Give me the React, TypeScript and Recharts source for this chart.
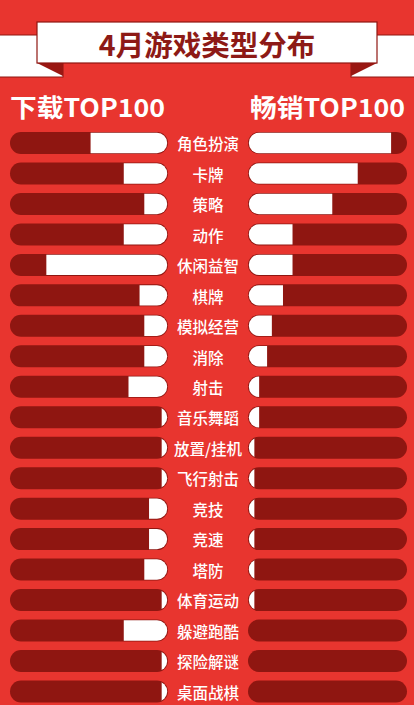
import { Bar, BarChart, XAxis, YAxis } from "recharts";

const categories = [
  "角色扮演",
  "卡牌",
  "策略",
  "动作",
  "休闲益智",
  "棋牌",
  "模拟经营",
  "消除",
  "射击",
  "音乐舞蹈",
  "放置/挂机",
  "飞行射击",
  "竞技",
  "竞速",
  "塔防",
  "体育运动",
  "躲避跑酷",
  "探险解谜",
  "桌面战棋",
];

// share of the track filled (0-100)
const downloadShare = [49, 28, 15, 28, 77, 18, 15, 15, 25, 4, 4, 4, 12, 12, 15, 4, 28, 4, 4];
const revenueShare = [90, 69, 53, 28, 28, 22, 15, 12, 7, 7, 4, 4, 4, 4, 4, 4, 0, 0, 0];

const title = "4月游戏类型分布";
const leftHeading = "下载TOP100";
const rightHeading = "畅销TOP100";

const rows = categories.map((name, i) => ({
  name,
  download: downloadShare[i],
  revenue: revenueShare[i],
}));

const RED = "#e8352f";
const DARK = "#8f1611";
const INK = "#8d1a16";
const FONT = '"Noto Sans CJK SC", "Noto Sans", sans-serif';

const ROW_H = 30.47;
const CHART_TOP = 128;
const CHART_H = ROW_H * categories.length;
const LABEL_W = 80;

function Track(props: any) {
  const { x, y, width, height } = props;
  return <rect x={x} y={y} width={width} height={height} rx={height / 2} fill={DARK} />;
}

function FillShape(props: any) {
  const { x, y, width, height, background, index, side } = props;
  const w = Math.abs(width ?? 0);
  if (!background || !w) return null;
  const x0 = Math.min(x, x + width);
  const b = background;
  const id = `clip-${side}-${index}`;
  const inset = 0.8;
  return (
    <g>
      <defs>
        <clipPath id={id}>
          <rect
            x={b.x + inset}
            y={b.y + inset}
            width={b.width - inset * 2}
            height={b.height - inset * 2}
            rx={(b.height - inset * 2) / 2}
          />
        </clipPath>
      </defs>
      <rect x={x0} y={y} width={w} height={height} fill="#fff" clipPath={`url(#${id})`} />
    </g>
  );
}

function CategoryTick({ x, y, payload }: any) {
  return (
    <text
      x={x + LABEL_W / 2}
      y={y}
      textAnchor="middle"
      dominantBaseline="central"
      fill="#fff"
      fontFamily={FONT}
      fontSize={15.5}
      fontWeight={500}
    >
      {payload.value}
    </text>
  );
}

function Banner() {
  return (
    <svg width={414} height={125} style={{ position: "absolute", left: 0, top: 0 }}>
      <rect x={-2} y={35} width={65} height={42} fill="#fff" stroke={DARK} strokeWidth={1} />
      <rect x={351} y={35} width={65} height={42} fill="#fff" stroke={DARK} strokeWidth={1} />
      <polygon points="37,63 63,63 63,76" fill="#9a1712" />
      <polygon points="351,63 377,63 351,76" fill="#9a1712" />
      <rect x={37} y={22} width={340} height={41} fill="#fff" stroke={DARK} strokeWidth={1.2} />
      <text
        x={207}
        y={43}
        textAnchor="middle"
        dominantBaseline="central"
        fontFamily={FONT}
        fontSize={28.5}
        fontWeight={700}
        fill={INK}
      >
        {title}
      </text>
      <text
        x={10}
        y={106}
        dominantBaseline="central"
        fontFamily={FONT}
        fontSize={25}
        fontWeight={700}
        fill="#fff"
        textLength={155}
        lengthAdjust="spacingAndGlyphs"
      >
        {leftHeading}
      </text>
      <text
        x={405}
        y={106}
        textAnchor="end"
        dominantBaseline="central"
        fontFamily={FONT}
        fontSize={25}
        fontWeight={700}
        fill="#fff"
        textLength={155}
        lengthAdjust="spacingAndGlyphs"
      >
        {rightHeading}
      </text>
    </svg>
  );
}

export default function App() {
  return (
    <div
      style={{
        position: "absolute",
        left: 0,
        top: 0,
        width: 414,
        height: 705,
        overflow: "hidden",
        background: RED,
      }}
    >
      <Banner />
      <div style={{ position: "absolute", left: 0, top: CHART_TOP }}>
        <BarChart
          layout="vertical"
          width={248}
          height={CHART_H}
          data={rows}
          margin={{ top: 0, right: 0, bottom: 0, left: 10 }}
          barCategoryGap={0}
        >
          <XAxis type="number" domain={[0, 100]} reversed hide />
          <YAxis
            type="category"
            dataKey="name"
            orientation="right"
            width={LABEL_W}
            axisLine={false}
            tickLine={false}
            tickSize={0}
            tickMargin={0}
            interval={0}
            tick={<CategoryTick />}
          />
          <Bar
            dataKey="download"
            barSize={22}
            background={<Track />}
            shape={(p: any) => <FillShape {...p} side="dl" />}
            isAnimationActive={false}
          />
        </BarChart>
      </div>
      <div style={{ position: "absolute", left: 248, top: CHART_TOP }}>
        <BarChart
          layout="vertical"
          width={166}
          height={CHART_H}
          data={rows}
          margin={{ top: 0, right: 7, bottom: 0, left: 0 }}
          barCategoryGap={0}
        >
          <XAxis type="number" domain={[0, 100]} hide />
          <YAxis type="category" dataKey="name" hide width={0} />
          <Bar
            dataKey="revenue"
            barSize={22}
            background={<Track />}
            shape={(p: any) => <FillShape {...p} side="rv" />}
            isAnimationActive={false}
          />
        </BarChart>
      </div>
    </div>
  );
}
